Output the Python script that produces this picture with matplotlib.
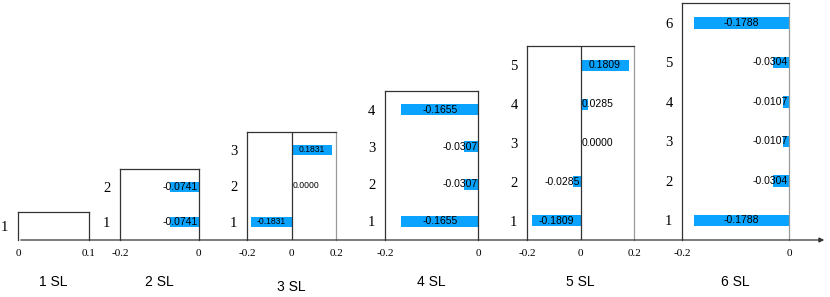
import matplotlib
matplotlib.use('Agg')
import matplotlib.pyplot as plt
from matplotlib.patches import FancyArrowPatch

# data
panel_names = ['1 SL', '2 SL', '3 SL', '4 SL', '5 SL', '6 SL']
values_1 = []
values_2 = [-0.0741, -0.0741]
values_3 = [-0.1831, 0.0000, 0.1831]
values_4 = [-0.1655, -0.0307, -0.0307, -0.1655]
values_5 = [-0.1809, -0.0285, 0.0000, 0.0285, 0.1809]
values_6 = [-0.1788, -0.0304, -0.0107, -0.0107, -0.0304, -0.1788]
panel_values = [values_1, values_2, values_3, values_4, values_5, values_6]
panel_rows = [1, 2, 3, 4, 5, 6]
panel_xlims = [(0, 0.1), (-0.2, 0), (-0.2, 0.2), (-0.2, 0), (-0.2, 0.2), (-0.2, 0)]

# layout in pixels (left, right, top), all boxes sit on the same baseline
W, H = 830, 297
base_y = 240
boxes = [(18, 88.5, 211.5), (120.3, 198.7, 169), (247.3, 336, 132),
         (385, 478.3, 91), (527.3, 634, 46), (682.3, 789, 3.3)]
right_colors = ['#333333', '#333333', '#999999', '#333333', '#999999', '#999999']
value_sizes = [7.5, 7.5, 6.2, 7.5, 7.5, 7.5]
title_offsets = [30.2, 30.2, 33.8, 30.2, 30.2, 30.2]

BLUE = '#0AA3FF'
DARK = '#333333'
SERIF = 'Liberation Serif'
SANS = 'Liberation Sans'

fig = plt.figure(figsize=(W / 100, H / 100), dpi=100)

for k, name in enumerate(panel_names):
    l, r, t = boxes[k]
    ax = fig.add_axes([l / W, (H - base_y) / H, (r - l) / W, (base_y - t) / H])
    lo, hi = panel_xlims[k]
    n = panel_rows[k]
    vals = panel_values[k]
    ax.set_xlim(lo, hi)
    ax.set_ylim(0, n)

    ys = [i + 0.5 for i in range(len(vals))]
    ax.barh(ys, vals, height=0.29, color=BLUE, zorder=2)

    if lo < 0 < hi:
        ax.axvline(0, color=DARK, lw=0.9, zorder=3)

    # value labels: centred in bar if it fits, otherwise anchored at zero
    fs = value_sizes[k]
    px_per_unit = (r - l) / (hi - lo)
    for y, v in zip(ys, vals):
        s = f'{v:.4f}'
        text_px = len(s) * 0.52 * fs * 100 / 72
        bar_px = abs(v) * px_per_unit
        if bar_px >= text_px + 4:
            ax.text(v / 2, y, s, ha='center', va='center', fontsize=fs,
                    family=SANS, zorder=4)
        elif v < 0:
            ax.annotate(s, xy=(0, y), xytext=(-0.7, 0), textcoords='offset points',
                        ha='right', va='center', fontsize=fs, family=SANS, zorder=4)
        else:
            ax.annotate(s, xy=(0, y), xytext=(0.8, 0), textcoords='offset points',
                        ha='left', va='center', fontsize=fs, family=SANS, zorder=4)

    ax.set_yticks([i + 0.5 for i in range(n)])
    ax.set_yticklabels([str(i + 1) for i in range(n)], family=SERIF, fontsize=10.5)
    ticks = sorted(set([lo, 0, hi]))
    ax.set_xticks(ticks)
    ax.set_xticklabels(['0' if tk == 0 else f'{tk:g}' for tk in ticks],
                       family=SERIF, fontsize=8)
    ax.tick_params(axis='both', length=0)
    ax.tick_params(axis='x', pad=6.5)
    ax.tick_params(axis='y', pad=7)

    for side in ['left', 'top', 'right']:
        ax.spines[side].set_linewidth(0.9)
        ax.spines[side].set_color(DARK)
    ax.spines['right'].set_color(right_colors[k])
    ax.spines['bottom'].set_visible(False)
    ax.patch.set_alpha(0)

    ax.annotate(name, xy=(0.5, 0), xycoords='axes fraction',
                xytext=(0, -title_offsets[k]), textcoords='offset points',
                ha='center', va='center', fontsize=10, family=SANS)

# common baseline with arrow
yb = (H - base_y) / H
arrow = FancyArrowPatch((18 / W, yb), (827 / W, yb), transform=fig.transFigure,
                        arrowstyle='-|>', mutation_scale=7, lw=0.9, color=DARK)
fig.add_artist(arrow)

fig.savefig('out.png', dpi=100)
